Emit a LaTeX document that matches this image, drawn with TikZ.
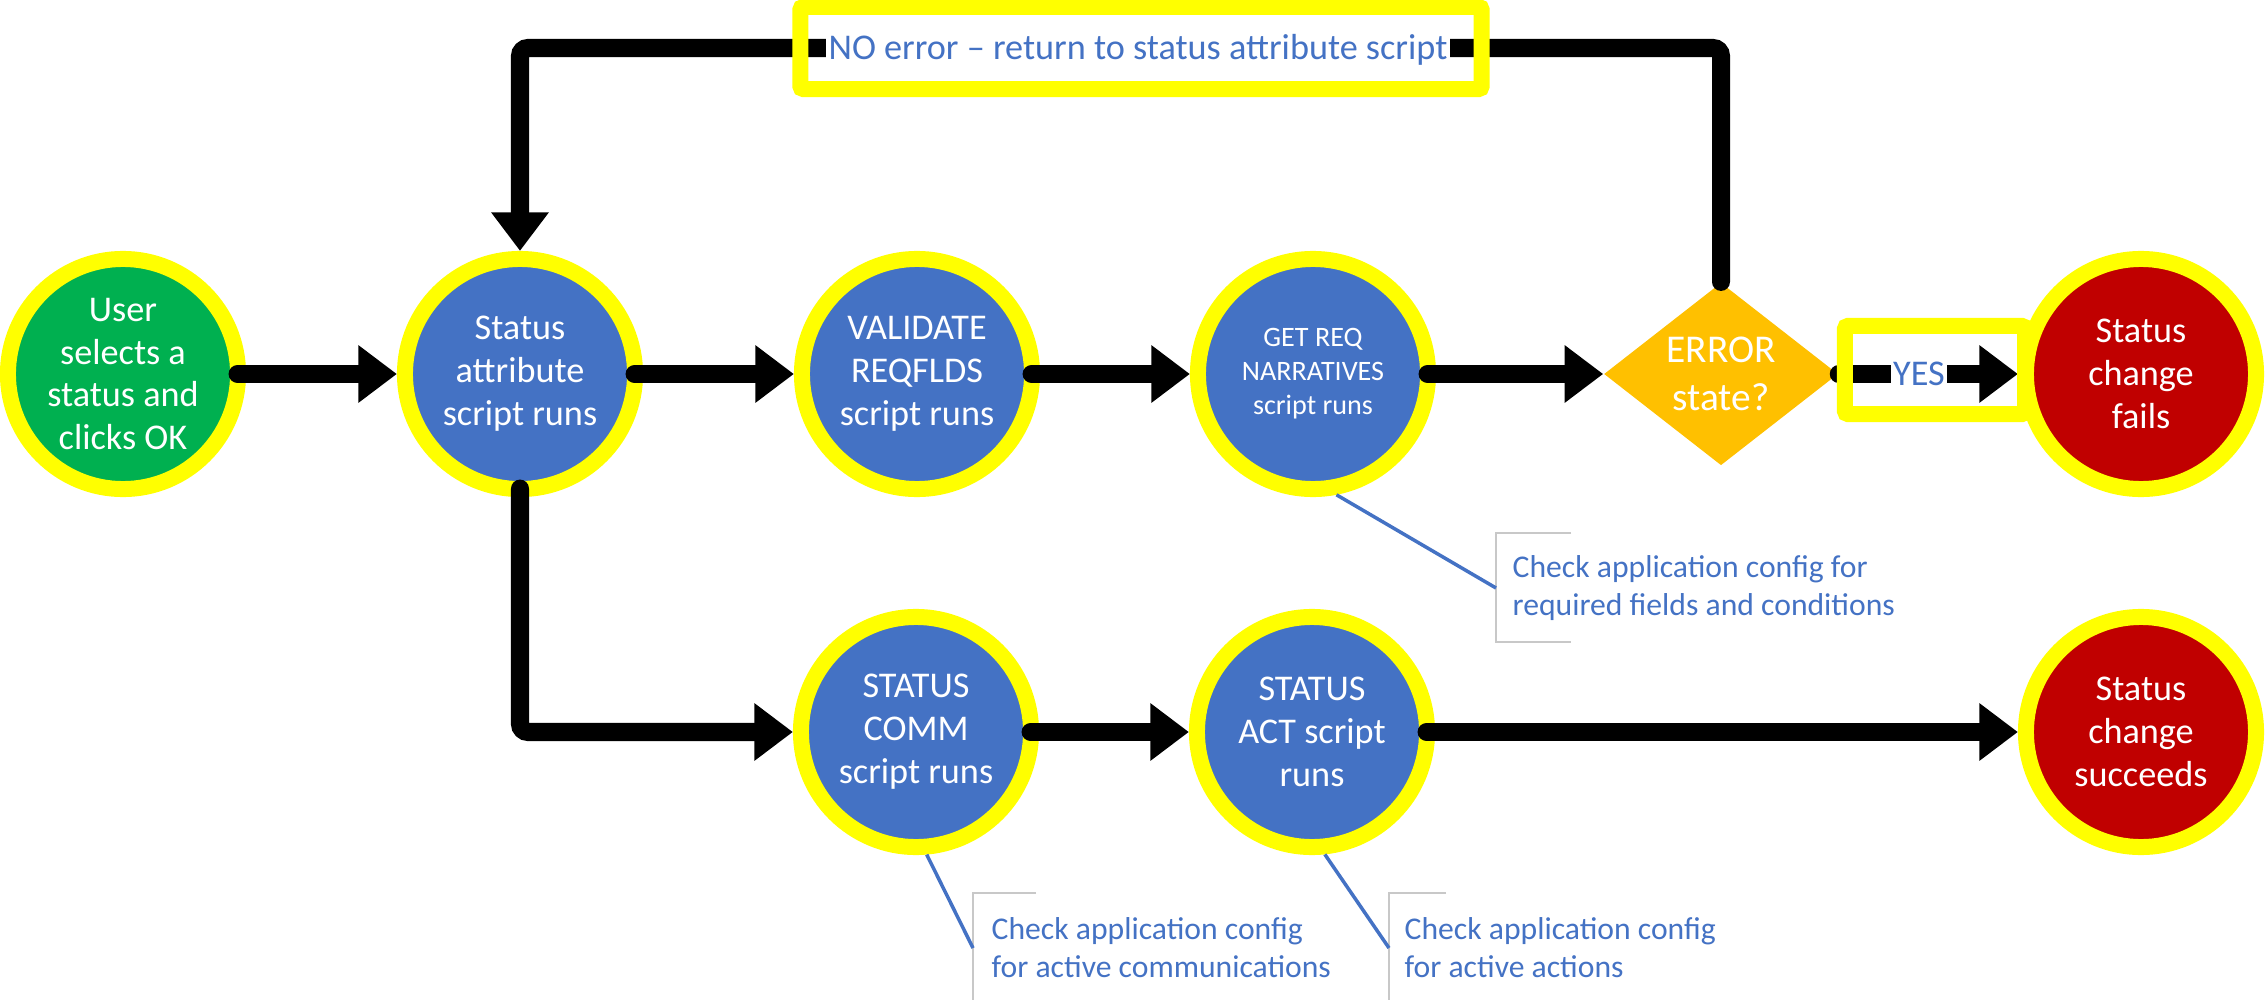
\documentclass[tikz,border=0pt]{standalone}
\usepackage{fontspec}
\setmainfont{Carlito}
\usetikzlibrary{arrows.meta,shapes.geometric}
\definecolor{node_blue}{RGB}{68,114,196}
\definecolor{start_green}{RGB}{0,176,80}
\definecolor{end_red}{RGB}{192,0,0}
\definecolor{dec_orange}{RGB}{255,192,0}
\definecolor{hl_yellow}{RGB}{255,255,0}
\definecolor{note_gray}{RGB}{200,200,200}

\begin{document}
\begin{tikzpicture}[x=0.01cm,y=-0.01cm,>={Triangle[length=0.385cm,width=0.55cm]}]
    \tikzstyle{ring}=[circle, draw=hl_yellow, line width=0.16cm, minimum size=2.30cm, inner sep=0pt, text=white, align=center, font=\fontsize{10.3}{12.2}\selectfont]
    \tikzstyle{flow}=[->, line width=0.18cm, line cap=round, rounded corners=0.08cm]
    \tikzstyle{from_ring}=[flow, shorten <=-0.085cm]
    \tikzstyle{hl_box}=[draw=hl_yellow, line width=0.16cm, rounded corners=0.03cm, inner sep=0pt]
    \tikzstyle{hl_text}=[fill=white, inner sep=0.6pt, text=node_blue, font=\fontsize{10.3}{12.2}\selectfont]
    \tikzstyle{note_text}=[anchor=west, align=left, inner sep=0pt, text=node_blue, font=\fontsize{9}{10.8}\selectfont]
    \tikzstyle{note_line}=[draw=node_blue, line width=0.035cm]
    \tikzstyle{note_bracket}=[draw=note_gray, line width=0.02cm]

    \useasboundingbox (0,0) rectangle (2265,1000);

    \node[ring, fill=start_green] (user)  at (123,374)  {User\\selects a\\status and\\clicks OK};
    \node[ring, fill=node_blue]   (attr)  at (520,374)  {Status\\attribute\\script runs};
    \node[ring, fill=node_blue]   (valid) at (917,374)  {VALIDATE\\REQFLDS\\script runs};
    \node[ring, fill=node_blue, font=\fontsize{8}{9.7}\selectfont] (narr) at (1313,374) {GET REQ\\NARRATIVES\\script runs};
    \node[diamond, fill=dec_orange, minimum width=2.34cm, minimum height=1.66cm, inner sep=0pt,
          text=white, align=center, font=\fontsize{11.2}{13.6}\selectfont] (err) at (1721,374) {ERROR\\state?};
    \node[ring, fill=end_red]     (fail)  at (2141,374) {Status\\change\\fails};

    \node[ring, fill=node_blue]   (comm)  at (916,732)  {STATUS\\COMM\\script runs};
    \node[ring, fill=node_blue]   (act)   at (1312,732) {STATUS\\ACT script\\runs};
    \node[ring, fill=end_red]     (done)  at (2141,732) {Status\\change\\succeeds};

    \coordinate (loop_top) at (1141,48);

    \path
     (user)  edge[from_ring] (attr)
     (attr)  edge[from_ring] (valid)
     (valid) edge[from_ring] (narr)
     (narr)  edge[from_ring] (err)
     (comm)  edge[from_ring] (act)
     (act)   edge[from_ring] (done)
     (err)   edge[flow]      (fail)
     ;
    \draw[from_ring] (attr.south) |- (comm.west);
    \draw[flow] (err.north) |- (loop_top) -| (attr.north);

    % yellow highlight boxes
    \node[hl_box, minimum width=6.81cm, minimum height=0.82cm] (noerr_box) at (1141,48) {};
    \node[hl_text] (noerr) at (1138,50) {NO error -- return to status attribute script};
    \node[hl_box, minimum width=1.80cm, minimum height=0.88cm] (yes_box) at (1935,370) {};
    \node[hl_text] (yes) at (1919,374) {YES};

    % callouts
    \coordinate (req_tip)  at (1496,588);
    \coordinate (comm_tip) at (973,948);
    \coordinate (act_tip)  at (1389,948);
    \node[note_text] (note_req)  at (1512,588) {Check application config for\\required fields and conditions};
    \node[note_text] (note_comm) at (991,948)  {Check application config\\for active communications};
    \node[note_text] (note_act)  at (1404,948) {Check application config\\for active actions};
    \draw[note_bracket] (1571,533) -- (req_tip |- 0,533) -- (req_tip |- 0,642) -- (1571,642);
    \draw[note_bracket] (1036,893) -- (comm_tip |- 0,893) -- (comm_tip |- 0,1000);
    \draw[note_bracket] (1446,893) -- (act_tip |- 0,893) -- (act_tip |- 0,1000);
    \draw[note_line] (narr.-79) -- (req_tip);
    \draw[note_line] (comm.-85) -- (comm_tip);
    \draw[note_line] (act.-84)  -- (act_tip);
\end{tikzpicture}
\end{document}
